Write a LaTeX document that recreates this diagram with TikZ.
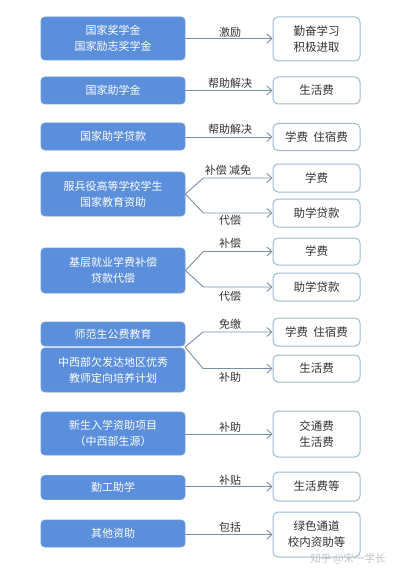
\documentclass[tikz,border=0pt]{standalone}
\usepackage{fontspec}
\setmainfont{Noto Sans CJK SC}
\usetikzlibrary{arrows.meta}
\definecolor{lbfill}{HTML}{5B8EDB}
\definecolor{lbdraw}{HTML}{6E9BE0}
\definecolor{rbdraw}{HTML}{9DBBD0}
\definecolor{arr}{HTML}{7B8FA6}
\definecolor{wm}{HTML}{C4C4C4}
\tikzset{
  lbox/.style={rectangle, rounded corners=4, fill=lbfill, draw=lbdraw, line width=0.8,
    text=white, minimum width=144, inner sep=0, align=center,
    font=\fontsize{11}{16}\selectfont},
  rbox/.style={rectangle, rounded corners=5, fill=white, draw=rbdraw, line width=1,
    text=black!80, minimum width=87, inner sep=0, align=center,
    font=\fontsize{11.5}{16}\selectfont},
  conn/.style={draw=arr, line width=0.9, -{Straight Barb[length=5,width=9]}},
  lab/.style={inner sep=0, text=black!80, font=\fontsize{11}{13}\selectfont},
}
\begin{document}
\begin{tikzpicture}[x=1pt,y=-1pt]
\useasboundingbox[fill=white] (0,0) rectangle (400,575);
% left boxes
\node[lbox, minimum height=43] (l1) at (113,38.5) {国家奖学金\\国家励志奖学金};
\node[lbox, minimum height=27] (l2) at (113,90.5) {国家助学金};
\node[lbox, minimum height=27] (l3) at (113,136.5) {国家助学贷款};
\node[lbox, minimum height=44] (l4) at (113,194) {服兵役高等学校学生\\国家教育资助};
\node[lbox, minimum height=45] (l5) at (113,270.5) {基层就业学费补偿\\贷款代偿};
\node[lbox, minimum height=24] (l6a) at (113,334) {师范生公费教育};
\node[lbox, minimum height=44] (l6b) at (113,370) {中西部欠发达地区优秀\\教师定向培养计划};
\node[lbox, minimum height=43] (l7) at (113,433.5) {新生入学资助项目\\（中西部生源）};
\node[lbox, minimum height=24] (l8) at (113,487.5) {勤工助学};
\node[lbox, minimum height=27] (l9) at (113,533.5) {其他资助};
% right boxes
\node[rbox, minimum height=44] (r1) at (316.5,39) {勤奋学习\\积极进取};
\node[rbox, minimum height=27] (r2) at (316.5,90.5) {生活费};
\node[rbox, minimum height=27] (r3) at (316.5,137) {学费\ \ 住宿费};
\node[rbox, minimum height=28] (r4a) at (316.5,178) {学费};
\node[rbox, minimum height=28] (r4b) at (316.5,213) {助学贷款};
\node[rbox, minimum height=27] (r5a) at (316.5,251.5) {学费};
\node[rbox, minimum height=28] (r5b) at (316.5,287) {助学贷款};
\node[rbox, minimum height=28] (r6a) at (316.5,332) {学费\ \ 住宿费};
\node[rbox, minimum height=27] (r6b) at (316.5,368.5) {生活费};
\node[rbox, minimum height=46] (r7) at (316.5,434) {交通费\\生活费};
\node[rbox, minimum height=29] (r8) at (316.5,486.5) {生活费等};
\node[rbox, minimum height=45] (r9) at (316.5,534.5) {绿色通道\\校内资助等};
% straight connectors
\draw[conn] (l1.east) -- (l1.east -| r1.west);
\draw[conn] (l2.east) -- (l2.east -| r2.west);
\draw[conn] (l3.east |- r3.west) -- (r3.west);
\draw[conn] (l7.east |- r7.west) -- (r7.west);
\draw[conn] (l8.east |- r8.west) -- (r8.west);
\draw[conn] (l9.east |- r9.west) -- (r9.west);
% branching connectors
\coordinate (a4) at (l4.east);
\coordinate (a5) at (l5.east);
\coordinate (a6) at (185,347);
\foreach \a/\u/\d in {a4/r4a/r4b, a5/r5a/r5b, a6/r6a/r6b}{
  \draw[conn] (\a) -- ([xshift=18]\a |- \u.west) -- (\u.west);
  \draw[conn] (\a) -- ([xshift=18]\a |- \d.west) -- (\d.west);
}
% labels
\node[lab] (t1) at (230,32) {激励};
\node[lab] (t2) at (230,83) {帮助解决};
\node[lab] (t3) at (230,129) {帮助解决};
\node[lab] (t4a) at (228,170) {补偿\ 减免};
\node[lab] (t4b) at (230,220) {代偿};
\node[lab] (t5a) at (230,243) {补偿};
\node[lab] (t5b) at (230,296) {代偿};
\node[lab] (t6a) at (230,324) {免缴};
\node[lab] (t6b) at (230,377) {补助};
\node[lab] (t7) at (230,427) {补助};
\node[lab] (t8) at (230,480) {补贴};
\node[lab] (t9) at (230,527) {包括};
% watermark
\node[inner sep=0, text=wm, font=\fontsize{10.5}{12}\selectfont] (wmk) at (348,559) {知乎 @宋一学长};
\end{tikzpicture}
\end{document}
